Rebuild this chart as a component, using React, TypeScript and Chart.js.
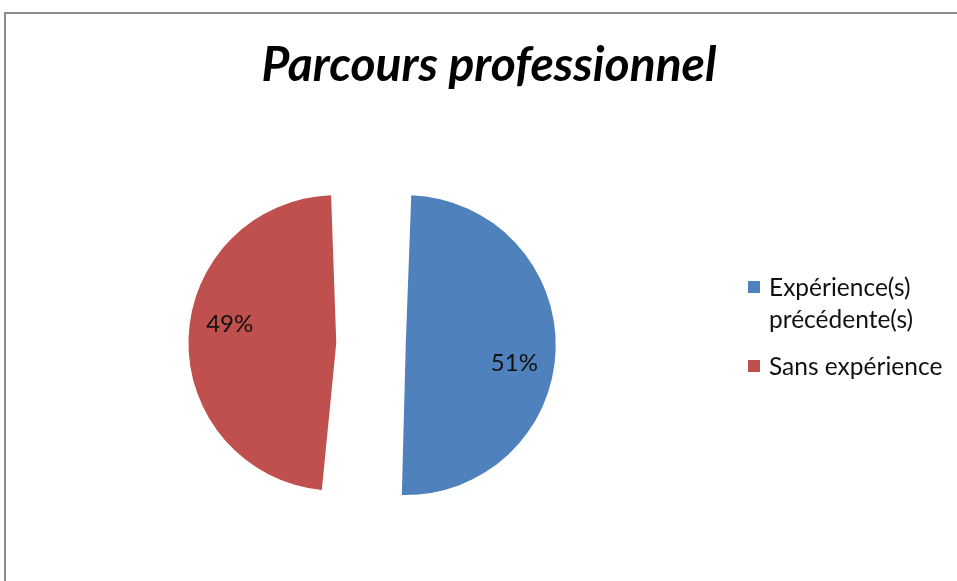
import React, { useEffect, useRef } from "react";
import { Chart, registerables } from "chart.js";

Chart.register(...registerables);

const TITLE = "Parcours professionnel";
const CATEGORIES = ["Expérience(s) précédente(s)", "Sans expérience"];
const VALUES = [51, 49];
const COLORS = ["#4F81BD", "#C0504D"];

const FONT = "Lato, 'Open Sans', sans-serif";

function wrapText(ctx: CanvasRenderingContext2D, text: string, maxWidth: number): string[] {
  const words = text.split(" ");
  const lines: string[] = [];
  let cur = "";
  for (const w of words) {
    const test = cur ? cur + " " + w : w;
    if (cur && ctx.measureText(test).width > maxWidth) {
      lines.push(cur);
      cur = w;
    } else {
      cur = test;
    }
  }
  if (cur) lines.push(cur);
  return lines;
}

const overlayPlugin = {
  id: "overlay",
  afterDraw(chart: any) {
    const ctx: CanvasRenderingContext2D = chart.ctx;
    ctx.save();

    // Title
    ctx.fillStyle = "#000000";
    ctx.font = `italic bold 48px ${FONT}`;
    ctx.textAlign = "center";
    ctx.textBaseline = "alphabetic";
    ctx.fillText(TITLE, 489, 81);

    // Data labels (percentages)
    const meta = chart.getDatasetMeta(0);
    const ds = chart.data.datasets[0];
    const total = (ds.data as number[]).reduce((a, b) => a + b, 0);
    ctx.font = `24px ${FONT}`;
    ctx.textAlign = "center";
    ctx.textBaseline = "middle";
    ctx.fillStyle = "#111111";
    meta.data.forEach((arc: any, i: number) => {
      const { x, y, startAngle, endAngle, outerRadius, circumference } = arc.getProps(
        ["x", "y", "startAngle", "endAngle", "outerRadius", "circumference"],
        true
      );
      const mid = (startAngle + endAngle) / 2;
      const off = (arc.options.offset || 0) / 4;
      const fix = 1 - Math.sin(Math.min(Math.PI, circumference || 0));
      const drawnR = outerRadius + off * fix;
      const a = mid + 0.105;
      const d = drawnR * 0.965;
      const pct = Math.round((ds.data[i] / total) * 100) + "%";
      ctx.fillText(pct, x + Math.cos(a) * d, y + Math.sin(a) * d);
    });

    // Legend
    ctx.font = `24.5px ${FONT}`;
    ctx.textAlign = "left";
    ctx.textBaseline = "alphabetic";
    const boxX = 748;
    const textX = 769;
    const lineH = 32;
    let baseline = 296;
    chart.data.labels.forEach((label: string, i: number) => {
      const lines = wrapText(ctx, label, 182);
      ctx.fillStyle = (ds.backgroundColor as string[])[i];
      ctx.fillRect(boxX, baseline - 15, 12, 12);
      ctx.fillStyle = "#111111";
      lines.forEach((ln, j) => {
        ctx.fillText(ln, textX, baseline + j * lineH);
      });
      baseline += (lines.length - 1) * lineH + 47;
    });

    ctx.restore();
  },
};

export default function App() {
  const ref = useRef<HTMLCanvasElement>(null);

  useEffect(() => {
    if (!ref.current) return;
    const chart = new Chart(ref.current, {
      type: "pie",
      data: {
        labels: CATEGORIES,
        datasets: [
          {
            data: VALUES,
            backgroundColor: COLORS,
            borderWidth: 0,
            offset: 139,
            radius: 115.25,
          } as any,
        ],
      },
      options: {
        animation: false,
        responsive: false,
        events: [],
        layout: { padding: { left: 0, right: 215, top: 107, bottom: 0 } },
        plugins: {
          legend: { display: false },
          title: { display: false },
          tooltip: { enabled: false },
        },
      },
      plugins: [overlayPlugin],
    });
    return () => chart.destroy();
  }, []);

  return (
    <div
      style={{
        position: "fixed",
        left: 0,
        top: 0,
        width: 957,
        height: 581,
        overflow: "hidden",
        background: "#ffffff",
      }}
    >
      <div
        style={{
          position: "absolute",
          left: 4,
          top: 12,
          width: 1200,
          height: 800,
          border: "2px solid #8a8a8a",
        }}
      />
      <canvas
        ref={ref}
        width={957}
        height={581}
        style={{ position: "absolute", left: 0, top: 0, width: 957, height: 581 }}
      />
    </div>
  );
}
